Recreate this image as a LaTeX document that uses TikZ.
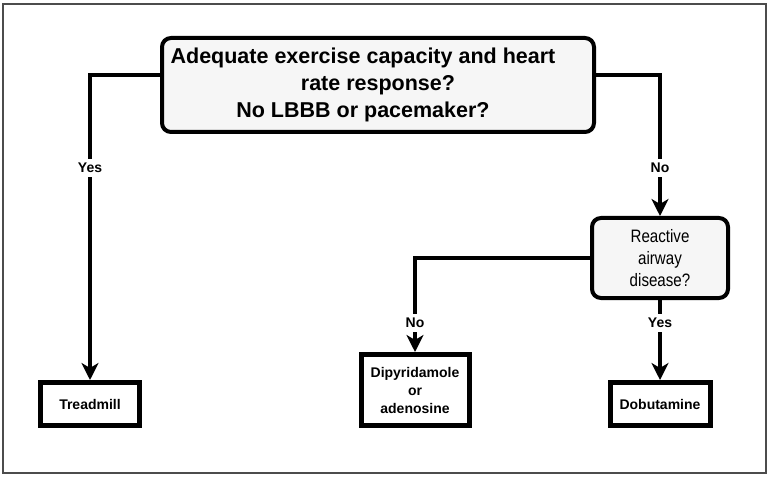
\documentclass[tikz,border=0pt]{standalone}
\usepackage{fontspec}
\setmainfont{Liberation Sans}
\newfontfamily\narrowfont[FakeStretch=0.84]{Liberation Sans}
\usetikzlibrary{arrows.meta}

\begin{document}
\begin{tikzpicture}[x=1pt, y=-1pt, >={Stealth[length=17pt, width=17pt, inset=5pt]},
    question/.style={draw, line width=4pt, rounded corners=9pt, fill=gray!7, align=center},
    result/.style={draw, line width=5pt, align=center, font=\bfseries\fontsize{14}{18}\selectfont},
    conn/.style={->, line width=4pt},
    lbl/.style={fill=white, inner xsep=1.5pt, inner ysep=4pt, font=\bfseries\fontsize{14}{14}\selectfont}]
    \useasboundingbox (0,0) rectangle (770,478);
    \draw [gray!60!black, line width=1.5pt] (3,4) rectangle (766,473);

    % decisions
    \node [question, minimum width=432pt, minimum height=94pt, font=\bfseries\fontsize{21.5}{27}\selectfont] (capacity) at (378,85)
        {Adequate exercise capacity and heart\hspace*{30pt}\\rate response?\hspace*{30pt}\\No LBBB or pacemaker?\hspace*{30pt}};
    \node [question, minimum width=136pt, minimum height=80pt, font=\narrowfont\fontsize{18}{22}\selectfont] (airway) at (660,258)
        {Reactive\\airway\\disease?};

    % tests
    \node [result, minimum width=99pt, minimum height=43pt] (treadmill) at (90,404) {Treadmill};
    \node [result, minimum width=108pt, minimum height=71pt] (dipyridamole) at (415,390) {Dipyridamole\\or\\adenosine};
    \node [result, minimum width=100pt, minimum height=43pt] (dobutamine) at (660,404) {Dobutamine};

    % connectors
    \draw [conn] ([yshift=10pt]capacity.west) -| (treadmill.north);
    \draw [conn] ([yshift=10pt]capacity.east) -| (airway.north);
    \draw [conn] (airway.west) -| (dipyridamole.north);
    \draw [conn] (airway.south) -- (dobutamine.north);

    \node [lbl] (yes1) at (90,168) {Yes};
    \node [lbl] (no1) at (660,168) {No};
    \node [lbl] (no2) at (415,323) {No};
    \node [lbl] (yes2) at (660,323) {Yes};
\end{tikzpicture}
\end{document}
